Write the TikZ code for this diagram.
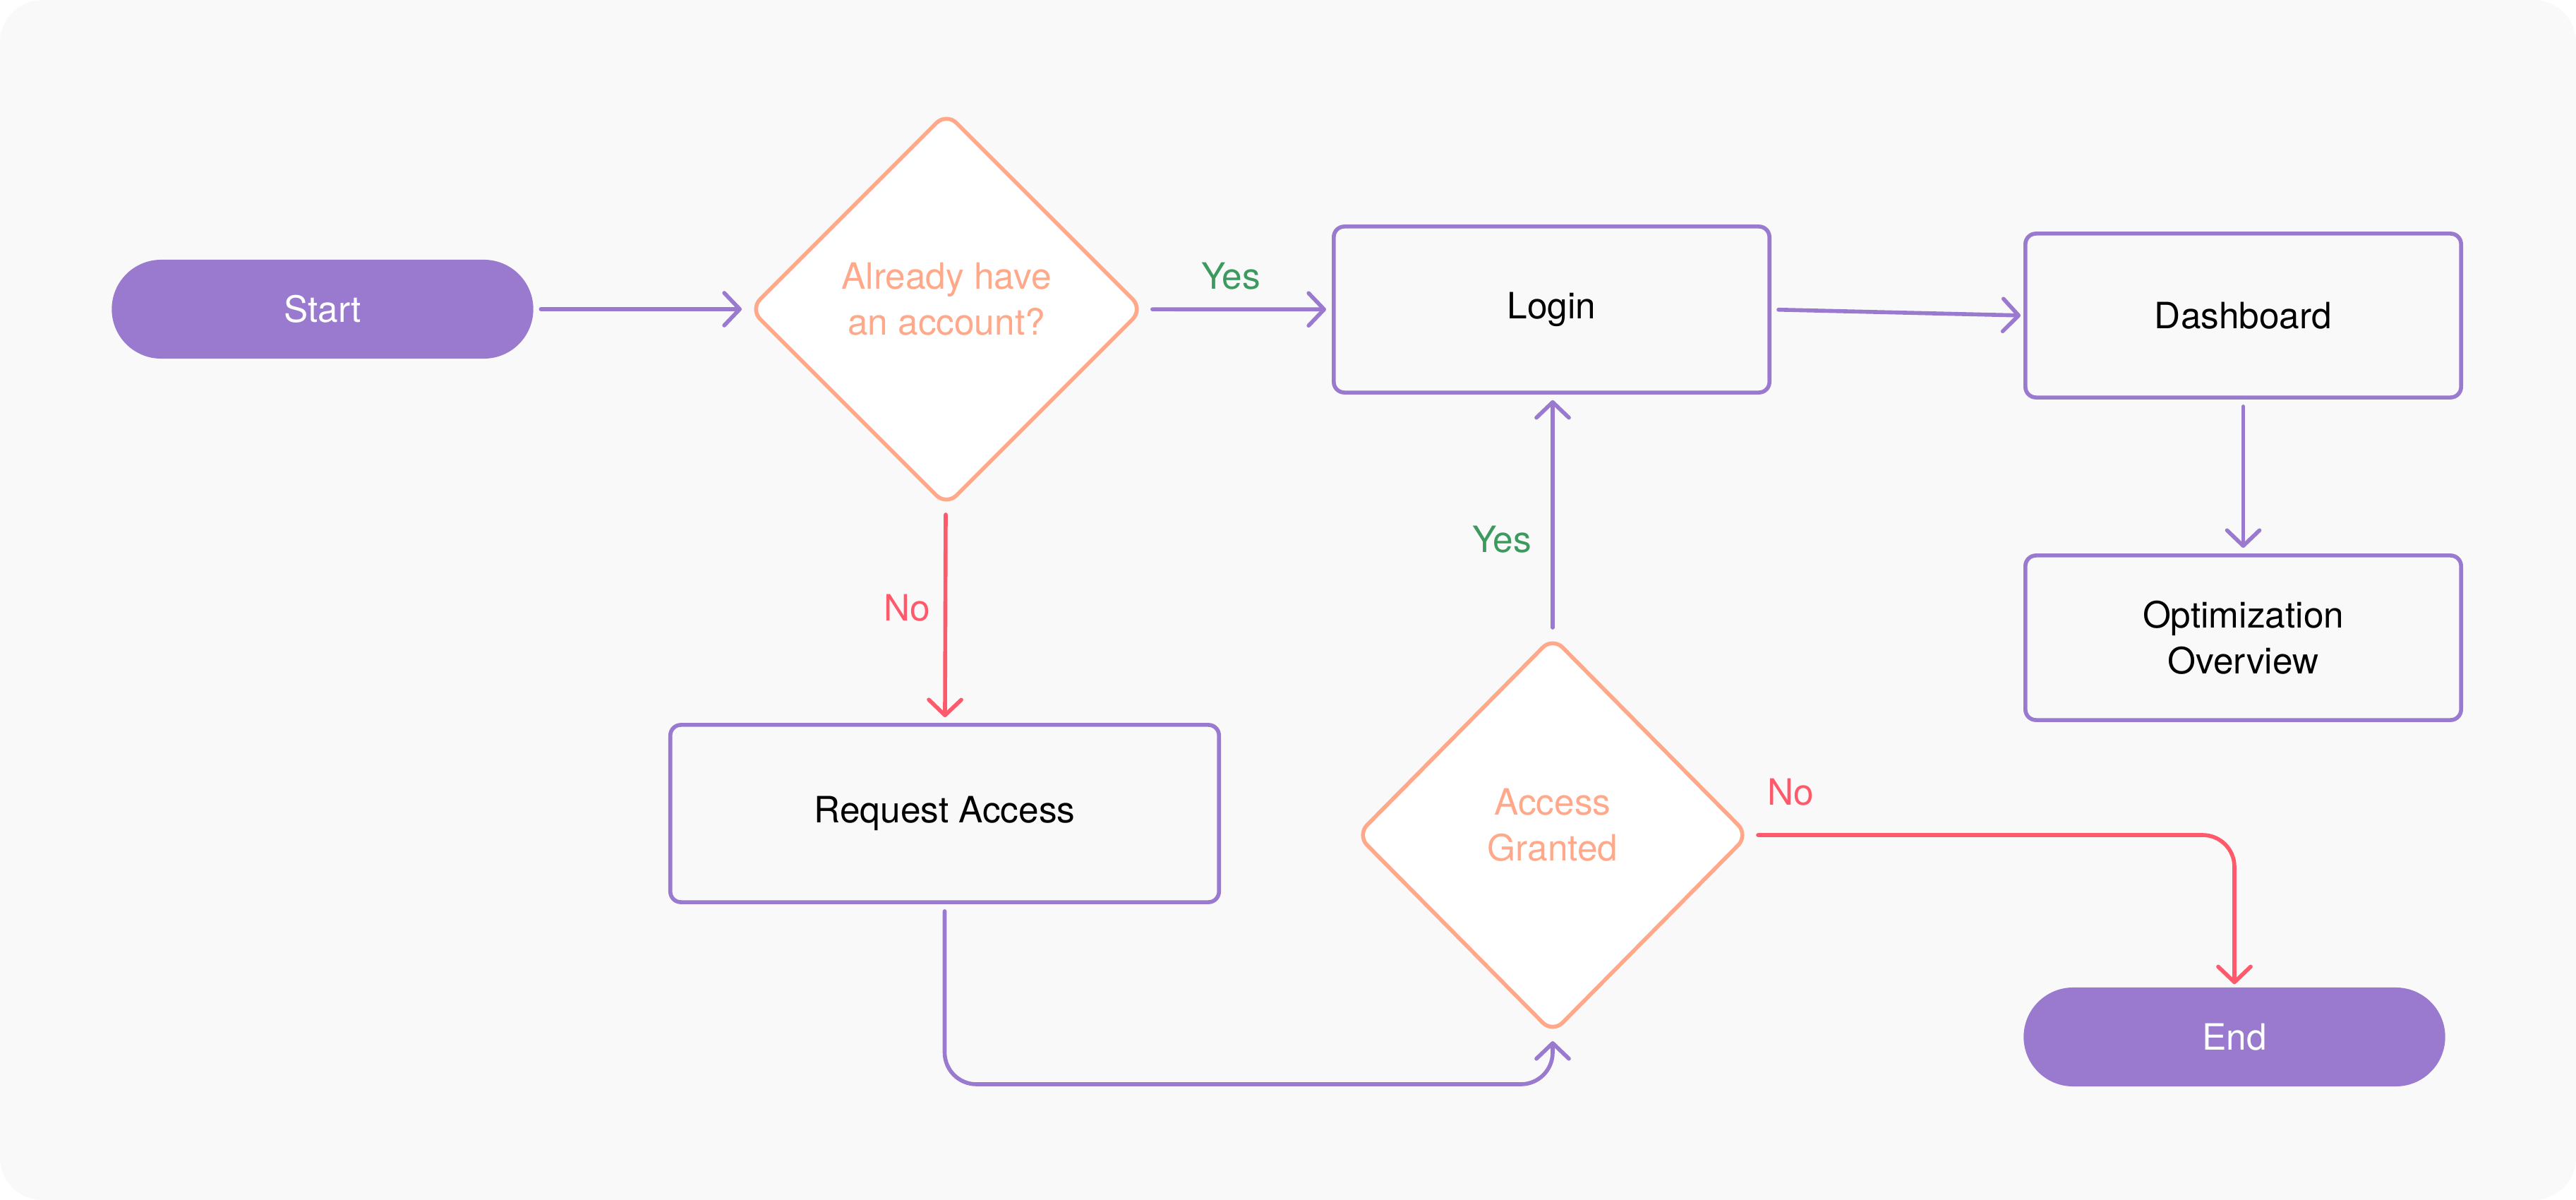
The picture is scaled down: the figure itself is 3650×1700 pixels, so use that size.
\documentclass[tikz,border=0pt]{standalone}
\usepackage{fontspec}
\setmainfont{TeX Gyre Heros}
\usetikzlibrary{shapes.geometric,arrows.meta}
\definecolor{bgc}{HTML}{F9F9F9}
\definecolor{purp}{HTML}{9A7ACE}
\definecolor{orng}{HTML}{FFA88A}
\definecolor{redc}{HTML}{FF5A6B}
\definecolor{grnc}{HTML}{3D9A5F}
\tikzset{
  base/.style={font=\fontsize{14.6pt}{18.5pt}\selectfont, inner sep=0pt, align=center},
  pill/.style={base, rectangle, fill=purp, text=white, minimum width=5.97cm, minimum height=1.4cm, rounded corners=0.7cm},
  box/.style={base, rectangle, draw=purp, line width=1.6pt, fill=bgc, text=black, minimum width=6.17cm, rounded corners=0.15cm},
  decision/.style={base, diamond, aspect=1, draw=orng, fill=white, line width=1.6pt, minimum width=5.58cm, minimum height=5.58cm, rounded corners=0.2cm},
  dlabel/.style={base, text=orng, yshift=0.14cm},
  flow/.style={draw=purp, line width=1.6pt, line cap=round, line join=round, shorten >=0.08cm, shorten <=0.1cm, -{Straight Barb[length=0.22cm,width=0.46cm,line width=1.6pt,round]}},
  noflow/.style={flow, draw=redc},
  yeslab/.style={base, text=grnc},
  nolab/.style={base, text=redc}
}
\begin{document}
\begin{tikzpicture}[x=0.01cm,y=-0.01cm]
\useasboundingbox (0,0) rectangle (3650,1700);
\fill[white] (0,0) rectangle (3650,1700);
\fill[bgc, rounded corners=0.6cm] (0,0) rectangle (3650,1700);

\node[pill] (start) at (457,438) {Start};
\node[decision, label={[dlabel]center:Already have\\an account?}] (d1) at (1341,438) {};
\node[box, minimum height=2.35cm] (login) at (2198.5,438.5) {Login};
\node[box, minimum height=2.32cm] (dash) at (3178.5,447) {Dashboard};
\node[box, minimum height=2.33cm] (opt) at (3178.5,903.5) {Optimization\\Overview};
\node[box, minimum width=7.77cm, minimum height=2.51cm] (req) at (1338.5,1152.5) {Request Access};
\node[decision, minimum height=5.62cm, minimum width=5.56cm, label={[dlabel]center:Access\\Granted}] (d2) at (2200,1183) {};
\node[pill] (end) at (3166,1469) {End};

\coordinate (lowrow) at (0,1536);

\draw[flow] (start) -- (d1);
\draw[flow] (d1) -- (login);
\draw[flow, shorten >=0.04cm] (login.east) -- (dash.west);
\draw[flow] (dash) -- (opt);
\draw[noflow] (d1) -- (req);
\draw[flow, rounded corners=0.45cm] (req.south) -- (req.south |- lowrow) -| (d2.south);
\draw[flow] (d2.north) -- (d2.north |- login.south);
\draw[noflow, rounded corners=0.45cm, shorten >=0.04cm] (d2.east) -| (end.north);

\node[yeslab] (y1) at (1744,391) {Yes};
\node[nolab] (n1) at (1285,861) {No};
\node[yeslab] (y2) at (2128,764) {Yes};
\node[nolab] (n2) at (2537,1122) {No};
\end{tikzpicture}
\end{document}
